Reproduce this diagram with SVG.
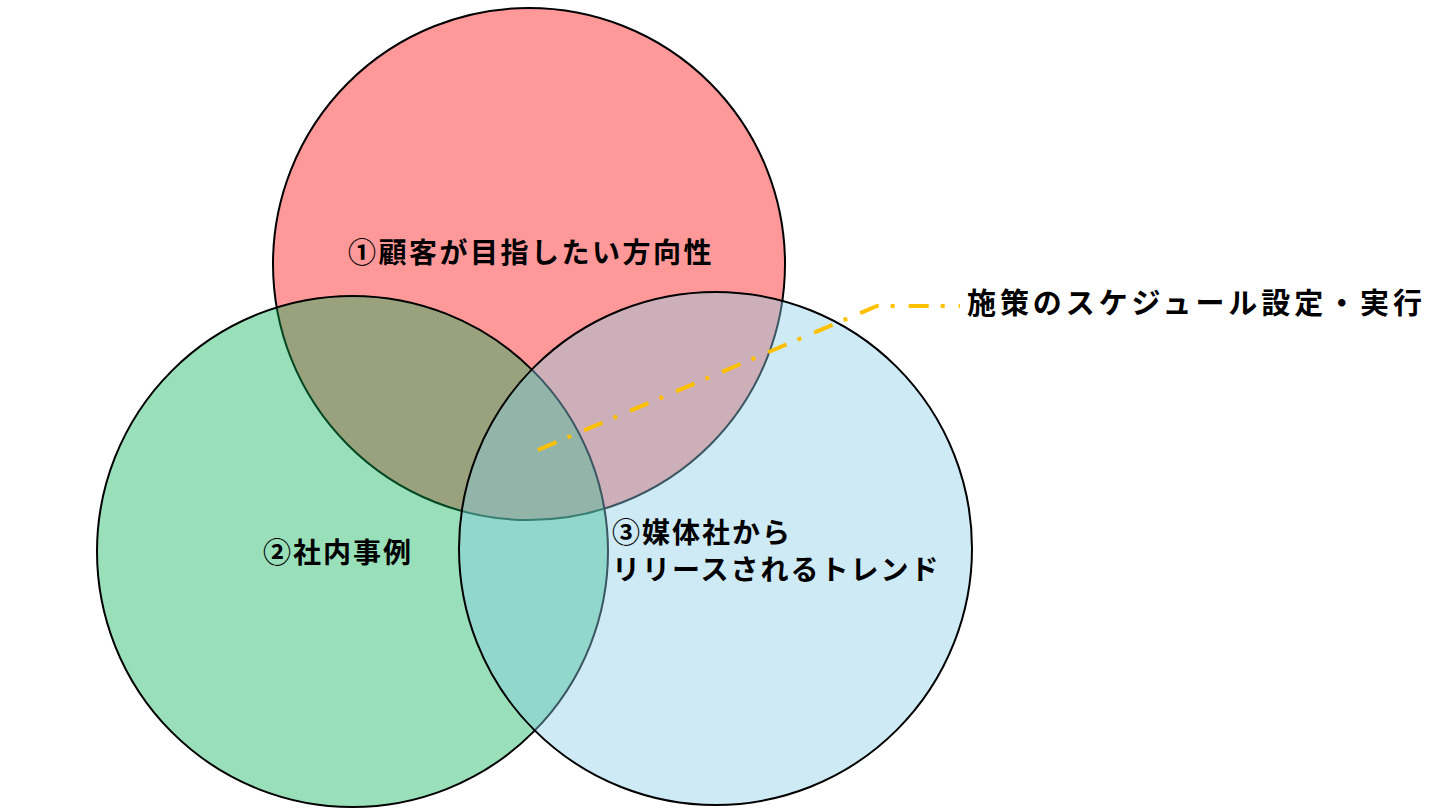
<svg xmlns="http://www.w3.org/2000/svg" width="1440" height="811" viewBox="0 0 1440 811">
<style>
.c{stroke:#000;stroke-width:2}
.t{font-family:"Noto Sans CJK JP","Noto Sans",sans-serif;font-weight:bold;font-size:28px;letter-spacing:2px;fill:#000}
</style>
<rect width="1440" height="811" fill="#fff"/>
<g id="circle1"><circle class="c" cx="529" cy="264" r="256" fill="rgb(255,0,0)" fill-opacity="0.4"/></g>
<g id="circle2"><circle class="c" cx="352.5" cy="551.5" r="255.5" fill="rgb(0,176,80)" fill-opacity="0.4"/></g>
<g id="circle3"><circle class="c" cx="715.5" cy="548.5" r="256.5" fill="rgb(136,204,232)" fill-opacity="0.42"/></g>
<g id="connectors"><polyline points="538,450 877,306 960,306" fill="none" stroke="#FFC000" stroke-width="4" stroke-dasharray="20 12 4 14"/></g>
<g id="label1"><text class="t" x="348" y="263" style="letter-spacing:2.5px">①顧客が目指したい方向性</text></g>
<g id="label2"><text class="t" x="263" y="563">②社内事例</text></g>
<g id="label3"><text class="t" x="612" y="543">③媒体社から</text><text class="t" x="612" y="580">リリースされるトレンド</text></g>
<g id="label4"><text class="t" x="967" y="314" style="font-size:29px;letter-spacing:0" textLength="455" lengthAdjust="spacing">施策のスケジュール設定・実行</text></g>
</svg>
